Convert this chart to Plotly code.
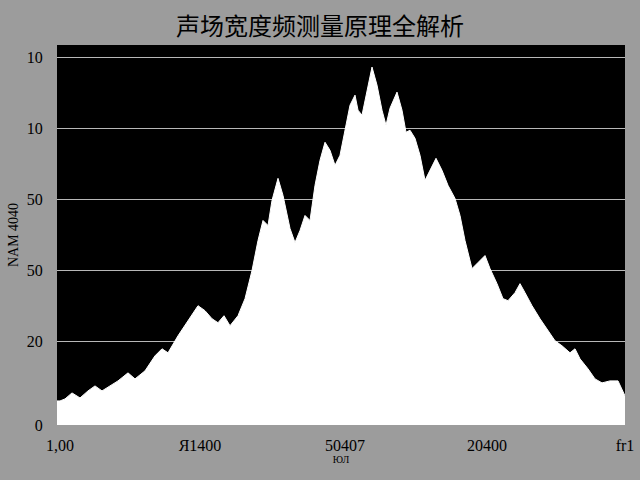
import plotly.graph_objects as go

# curve: x position and height above the baseline
xs = [57, 60, 65, 72, 80, 88, 95, 102, 110, 118, 128, 135, 145, 155, 162, 168, 178, 188, 198,
      205, 212, 218, 224, 230, 238, 245, 252, 258, 263, 268, 272, 278, 283, 290, 295, 300,
      305, 310, 315, 320, 325, 330, 335, 340, 345, 350, 355, 358, 362, 367, 372, 377, 382,
      386, 390, 397, 402, 406, 410, 415, 420, 425, 430, 436, 442, 448, 455, 460, 465, 472,
      478, 485, 490, 497, 503, 508, 515, 520, 525, 532, 540, 548, 555, 562, 570, 575, 580,
      588, 595, 602, 610, 618, 625]
heights = [24, 24, 26, 32, 27, 34, 39, 34, 39, 44, 52, 46, 54, 69, 76, 72, 89, 104, 119,
           114, 106, 102, 109, 99, 109, 126, 154, 184, 204, 199, 224, 246, 229, 196, 182, 194,
           209, 204, 239, 264, 282, 274, 259, 269, 294, 319, 329, 314, 309, 334, 357, 339, 314,
           299, 316, 332, 314, 292, 294, 286, 269, 244, 254, 266, 254, 239, 226, 209, 184, 156,
           162, 169, 156, 141, 126, 124, 132, 141, 132, 119, 106, 94, 84, 79, 72, 76, 66,
           56, 46, 42, 44, 44, 29]

y_tick_vals = [0, 83, 154, 225, 296, 367]
y_tick_text = ["0", "20", "50", "50", "10", "10"]
x_tick_vals = [60, 200, 345, 487, 625]
x_tick_text = ["1,00", "Я1400", "50407", "20400", "fr1"]

fig = go.Figure()
fig.add_trace(go.Scatter(x=xs, y=heights, mode="lines", fill="tozeroy",
                         fillcolor="white", line=dict(color="white", width=1)))

fig.update_layout(
    width=640, height=480,
    paper_bgcolor="#9c9c9c", plot_bgcolor="black",
    margin=dict(l=57, r=15, t=45, b=55),
    showlegend=False,
    title=dict(text="声场宽度频测量原理全解析", x=0.5, y=0.945, xanchor="center", yanchor="middle",
               font=dict(family="Noto Sans CJK SC", size=24, color="black")),
    font=dict(family="Liberation Serif", size=16, color="black"),
)
fig.update_xaxes(range=[57, 625], tickvals=x_tick_vals, ticktext=x_tick_text, automargin=False,
                 showgrid=False, zeroline=False, ticks="outside", ticklen=6, tickcolor="#9c9c9c",
                 title=dict(text="ЮЛ", font=dict(size=10), standoff=0))
fig.update_yaxes(range=[0, 379], tickvals=y_tick_vals, ticktext=y_tick_text, automargin=False,
                 showgrid=True, gridcolor="#b8b8b8", gridwidth=1, zeroline=False,
                 ticks="outside", ticklen=10, tickcolor="#9c9c9c",
                 title=dict(text="NAM 4040", font=dict(size=14), standoff=4))

fig.write_html("out.html", config={"displayModeBar": False},
               post_script="document.body.style.margin='0';")
